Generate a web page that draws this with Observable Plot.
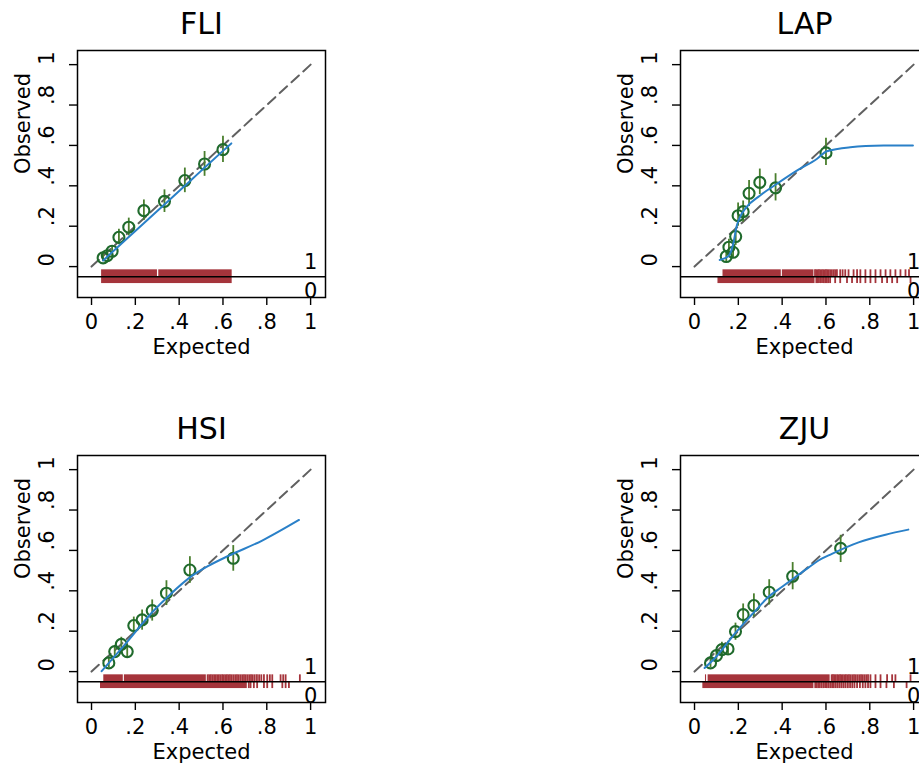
<!DOCTYPE html>
<html><head><meta charset="utf-8">
<script src="https://cdn.jsdelivr.net/npm/d3@7"></script>
<script src="https://cdn.jsdelivr.net/npm/@observablehq/plot@0.6"></script>
<style>
body{margin:0;background:#fff;overflow:hidden}
#wrap{position:relative;width:919px;height:767px;overflow:hidden;background:#fff}
.panel{position:absolute}
</style></head><body><div id="wrap"></div>
<script>
// ---- axis ticks ----
const xTicks = [0, 0.2, 0.4, 0.6, 0.8, 1];
const yTicks = [0, 0.2, 0.4, 0.6, 0.8, 1];
const diag = [0, 1];
const outcomeLabels = ["1", "0"];

// ---- FLI ----
const fliExpected = [0.053,0.072,0.094,0.125,0.170,0.239,0.333,0.426,0.516,0.600];
const fliObserved = [0.043,0.054,0.076,0.145,0.195,0.277,0.323,0.426,0.508,0.579];
const fliLow      = [0.025,0.033,0.050,0.108,0.152,0.228,0.268,0.366,0.447,0.515];
const fliHigh     = [0.065,0.078,0.104,0.185,0.240,0.330,0.380,0.488,0.570,0.645];
const fliSmoothX  = [0.053,0.10,0.20,0.30,0.40,0.50,0.60,0.638];
const fliSmoothY  = [0.030,0.077,0.176,0.275,0.374,0.474,0.573,0.610];
const fliRugOneSpans  = [[0.046,0.301],[0.307,0.642]];
const fliRugOneTicks  = [];
const fliRugZeroSpans = [[0.046,0.642]];
const fliRugZeroTicks = [];

// ---- LAP ----
const lapExpected = [0.145,0.157,0.176,0.188,0.199,0.222,0.249,0.298,0.370,0.600];
const lapObserved = [0.050,0.096,0.071,0.149,0.252,0.272,0.363,0.417,0.390,0.563];
const lapLow      = [0.025,0.060,0.040,0.105,0.200,0.220,0.298,0.357,0.325,0.500];
const lapHigh     = [0.080,0.135,0.105,0.190,0.315,0.325,0.426,0.483,0.460,0.635];
const lapSmoothX  = [0.115,0.153,0.168,0.180,0.191,0.206,0.237,0.298,0.375,0.467,0.558,0.604,0.711,0.864,0.997];
const lapSmoothY  = [0.033,0.050,0.079,0.129,0.195,0.241,0.294,0.351,0.409,0.475,0.533,0.571,0.591,0.599,0.600];
const lapRugOneSpans  = [[0.130,0.396],[0.401,0.545]];
const lapRugOneTicks  = [0.550,0.556,0.562,0.568,0.574,0.581,0.587,0.594,0.600,0.606,0.612,0.619,0.627,0.635,0.642,0.650,0.665,0.676,0.688,0.703,0.726,0.742,0.757,0.780,0.803,0.826,0.849,0.872,0.894,0.917,0.940,0.963,0.979];
const lapRugZeroSpans = [[0.107,0.550]];
const lapRugZeroTicks = [0.556,0.562,0.568,0.575,0.582,0.590,0.597,0.604,0.611,0.619,0.642,0.665,0.696,0.719,0.742,0.757,0.780,0.803,0.826,0.856,0.879,0.902,0.925,0.986];

// ---- HSI ----
const hsiExpected = [0.079,0.106,0.136,0.163,0.193,0.231,0.277,0.342,0.449,0.647];
const hsiObserved = [0.043,0.099,0.135,0.099,0.228,0.256,0.302,0.388,0.503,0.561];
const hsiLow      = [0.020,0.070,0.100,0.065,0.185,0.205,0.250,0.327,0.437,0.497];
const hsiHigh     = [0.070,0.130,0.170,0.135,0.270,0.305,0.355,0.450,0.569,0.624];
const hsiSmoothX  = [0.046,0.155,0.277,0.353,0.460,0.536,0.627,0.779,0.947];
const hsiSmoothY  = [0.002,0.137,0.294,0.376,0.475,0.525,0.574,0.649,0.751];
const hsiRugOneSpans  = [[0.056,0.145],[0.150,0.524]];
const hsiRugOneTicks  = [0.530,0.537,0.545,0.553,0.560,0.567,0.574,0.581,0.588,0.596,0.603,0.610,0.618,0.625,0.632,0.640,0.648,0.656,0.664,0.672,0.680,0.688,0.696,0.704,0.712,0.720,0.728,0.736,0.745,0.755,0.765,0.775,0.787,0.802,0.814,0.825,0.863,0.875,0.886,0.951];
const hsiRugZeroSpans = [[0.041,0.711]];
const hsiRugZeroTicks = [0.718,0.726,0.741,0.756,0.787,0.802,0.825,0.871,0.886,0.901];

// ---- ZJU ----
const zjuExpected = [0.073,0.100,0.125,0.153,0.187,0.222,0.271,0.341,0.448,0.667];
const zjuObserved = [0.043,0.079,0.109,0.112,0.198,0.282,0.327,0.393,0.472,0.610];
const zjuLow      = [0.020,0.050,0.075,0.080,0.155,0.230,0.270,0.330,0.405,0.540];
const zjuHigh     = [0.070,0.110,0.145,0.150,0.240,0.335,0.385,0.455,0.540,0.675];
const zjuSmoothX  = [0.046,0.100,0.183,0.260,0.336,0.400,0.459,0.520,0.566,0.627,0.749,0.872,0.976];
const zjuSmoothY  = [0.018,0.075,0.187,0.280,0.368,0.420,0.467,0.515,0.550,0.583,0.640,0.678,0.703];
const zjuRugOneSpans  = [[0.050,0.055],[0.062,0.619]];
const zjuRugOneTicks  = [0.626,0.632,0.638,0.644,0.651,0.657,0.664,0.670,0.677,0.684,0.691,0.698,0.705,0.712,0.720,0.728,0.736,0.744,0.752,0.760,0.768,0.776,0.784,0.792,0.803,0.826,0.849,0.879,0.902,0.917,0.986];
const zjuRugZeroSpans = [[0.038,0.545]];
const zjuRugZeroTicks = [0.551,0.558,0.565,0.572,0.580,0.588,0.596,0.604,0.612,0.620,0.628,0.636,0.645,0.654,0.663,0.672,0.681,0.690,0.700,0.710,0.720,0.730,0.742,0.755,0.768,0.780,0.792,0.803,0.826,0.849,0.876,0.910,0.968];

const panels = [
  {name:"FLI", exp:fliExpected, obs:fliObserved, lo:fliLow, hi:fliHigh, sx:fliSmoothX, sy:fliSmoothY,
   oneSpans:fliRugOneSpans, oneTicks:fliRugOneTicks, zeroSpans:fliRugZeroSpans, zeroTicks:fliRugZeroTicks, left:0, top:0},
  {name:"LAP", exp:lapExpected, obs:lapObserved, lo:lapLow, hi:lapHigh, sx:lapSmoothX, sy:lapSmoothY,
   oneSpans:lapRugOneSpans, oneTicks:lapRugOneTicks, zeroSpans:lapRugZeroSpans, zeroTicks:lapRugZeroTicks, left:603, top:0},
  {name:"HSI", exp:hsiExpected, obs:hsiObserved, lo:hsiLow, hi:hsiHigh, sx:hsiSmoothX, sy:hsiSmoothY,
   oneSpans:hsiRugOneSpans, oneTicks:hsiRugOneTicks, zeroSpans:hsiRugZeroSpans, zeroTicks:hsiRugZeroTicks, left:0, top:405},
  {name:"ZJU", exp:zjuExpected, obs:zjuObserved, lo:zjuLow, hi:zjuHigh, sx:zjuSmoothX, sy:zjuSmoothY,
   oneSpans:zjuRugOneSpans, oneTicks:zjuRugOneTicks, zeroSpans:zjuRugZeroSpans, zeroTicks:zjuRugZeroTicks, left:603, top:405}
];

const rugBase = -0.05;
const rugLen = 0.034;
const fmt = d => d === 0 ? "0" : d === 1 ? "1" : String(d).replace(/^0/, "");
const GREEN = "#1f6a2c", BAR = "#4a7f2e", BLUE = "#2a80c8", RUG = "#a5343b";
const FONT = "'DejaVu Sans', 'Liberation Sans', Arial, sans-serif";

const wrap = document.getElementById("wrap");
for (const p of panels) {
  const pts = p.exp.map((e, i) => ({e, o: p.obs[i], lo: p.lo[i], hi: p.hi[i]}));
  const smooth = p.sx.map((x, i) => ({x, y: p.sy[i]}));
  const chart = Plot.plot({
    width: 340, height: 370,
    marginLeft: 77, marginRight: 15, marginTop: 50, marginBottom: 73,
    x: {domain: [-0.064, 1.068]},
    y: {domain: [-0.153, 1.07]},
    style: {fontFamily: FONT, fontSize: "21px", background: "white", overflow: "visible", color: "black"},
    marks: [
      Plot.axisX({ticks: xTicks, tickFormat: () => "", tickSize: 8, label: null, strokeWidth: 1.4}),
      Plot.axisY({ticks: yTicks, tickFormat: () => "", tickSize: 8, label: null, strokeWidth: 1.4}),
      Plot.text(xTicks, {x: d => d, frameAnchor: "bottom", dy: 25, text: fmt, fontSize: 21, lineAnchor: "middle"}),
      Plot.text(yTicks, {y: d => d, frameAnchor: "left", dx: -30, rotate: -90, text: fmt, fontSize: 21, lineAnchor: "middle"}),
      Plot.line(diag, {x: d => d, y: d => d, stroke: "#606060", strokeWidth: 2, strokeDasharray: "10,6"}),
      Plot.rect(p.oneSpans, {x1: d => d[0], x2: d => d[1], y1: rugBase, y2: rugBase + rugLen, fill: RUG, inset: 0}),
      Plot.ruleX(p.oneTicks, {x: d => d, y1: rugBase, y2: rugBase + rugLen, stroke: RUG, strokeWidth: 1.8}),
      Plot.rect(p.zeroSpans, {x1: d => d[0], x2: d => d[1], y1: rugBase - rugLen, y2: rugBase, fill: RUG, inset: 0}),
      Plot.ruleX(p.zeroTicks, {x: d => d, y1: rugBase - rugLen, y2: rugBase, stroke: RUG, strokeWidth: 1.8}),
      Plot.ruleY([rugBase], {stroke: "black", strokeWidth: 1.4}),
      Plot.text(outcomeLabels.slice(0,1), {x: 1, y: rugBase, dy: -14, text: d => d, fontSize: 21, textAnchor: "middle"}),
      Plot.text(outcomeLabels.slice(1), {x: 1, y: rugBase, dy: 15, text: d => d, fontSize: 21, textAnchor: "middle"}),
      Plot.ruleX(pts, {x: "e", y1: "lo", y2: "hi", stroke: BAR, strokeWidth: 1.8}),
      Plot.dot(pts, {x: "e", y: "o", r: 5.5, stroke: GREEN, strokeWidth: 2.1, fill: "none"}),
      Plot.line(smooth, {x: "x", y: "y", stroke: BLUE, strokeWidth: 2, curve: "monotone-x"}),
      Plot.frame({stroke: "black", strokeWidth: 1.5}),
      Plot.text([p.name], {frameAnchor: "top", dy: -26, text: d => d, fontSize: 30, lineAnchor: "middle"}),
      Plot.text(["Expected"], {frameAnchor: "bottom", dy: 50, text: d => d, fontSize: 21, lineAnchor: "middle"}),
      Plot.text(["Observed"], {frameAnchor: "left", dx: -54, rotate: -90, text: d => d, fontSize: 21, lineAnchor: "middle"})
    ]
  });
  chart.classList.add("panel");
  chart.style.left = p.left + "px";
  chart.style.top = p.top + "px";
  wrap.appendChild(chart);
}
</script></body></html>
